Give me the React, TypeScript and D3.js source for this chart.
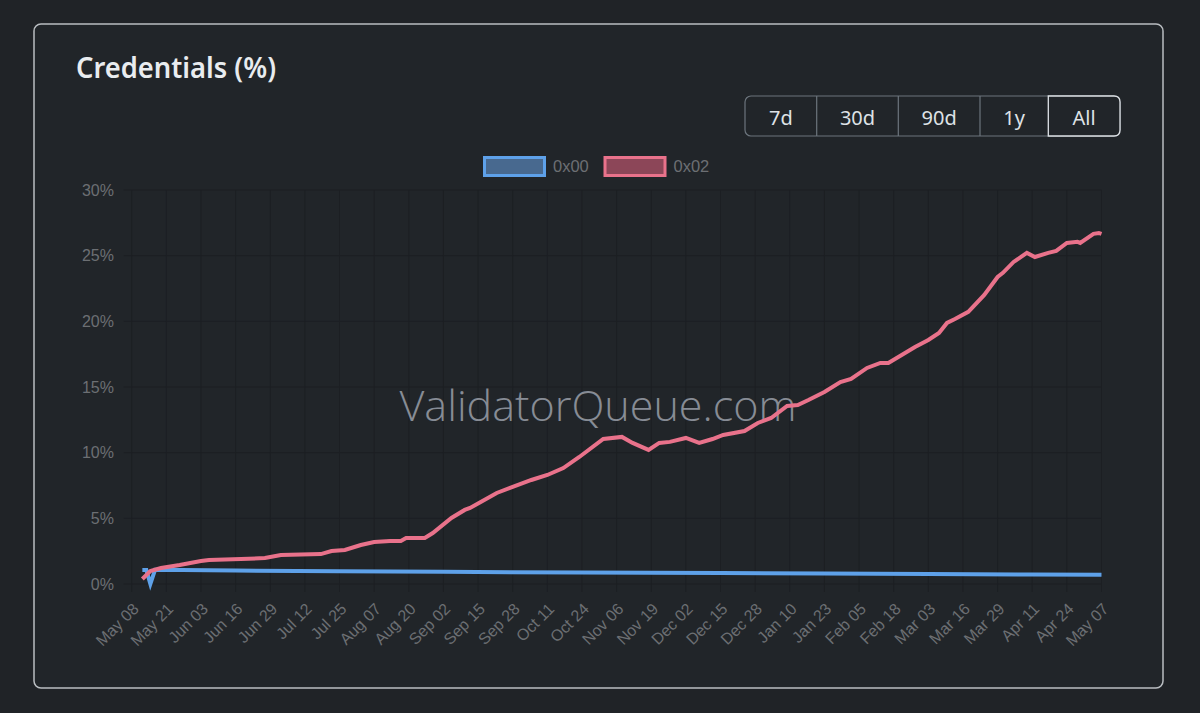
import * as d3 from 'd3';

// Series "0x02" (pink) — date, percent of validators
const pinkDates = [
  '2025-05-12', '2025-05-15', '2025-05-19', '2025-05-26', '2025-06-03', '2025-06-06',
  '2025-06-18', '2025-06-27', '2025-07-03', '2025-07-18', '2025-07-22', '2025-07-27',
  '2025-08-02', '2025-08-07', '2025-08-13', '2025-08-17', '2025-08-19', '2025-08-26',
  '2025-08-29', '2025-09-05', '2025-09-10', '2025-09-12', '2025-09-16', '2025-09-22',
  '2025-09-28', '2025-10-05', '2025-10-11', '2025-10-17', '2025-10-23', '2025-11-01',
  '2025-11-08', '2025-11-12', '2025-11-18', '2025-11-22', '2025-11-26', '2025-12-02',
  '2025-12-07', '2025-12-12', '2025-12-16', '2025-12-24', '2025-12-29', '2026-01-03',
  '2026-01-09', '2026-01-13', '2026-01-17', '2026-01-23', '2026-01-29', '2026-02-02',
  '2026-02-08', '2026-02-13', '2026-02-16', '2026-02-21', '2026-02-26', '2026-03-03',
  '2026-03-07', '2026-03-10', '2026-03-13', '2026-03-18', '2026-03-24', '2026-03-29',
  '2026-03-31', '2026-04-04', '2026-04-09', '2026-04-12', '2026-04-17', '2026-04-20',
  '2026-04-24', '2026-04-28', '2026-04-29', '2026-05-04', '2026-05-06', '2026-05-07',
];
const pinkValues = [
  0.38, 0.99, 1.22, 1.45, 1.75, 1.83,
  1.9, 1.98, 2.21, 2.28, 2.51, 2.59,
  2.97, 3.2, 3.27, 3.27, 3.5, 3.5,
  3.88, 5.03, 5.64, 5.79, 6.25, 6.93,
  7.39, 7.92, 8.3, 8.83, 9.67, 11.04,
  11.2, 10.74, 10.21, 10.74, 10.82, 11.12,
  10.74, 11.04, 11.35, 11.65, 12.26, 12.64,
  13.56, 13.63, 14.01, 14.62, 15.38, 15.61,
  16.45, 16.83, 16.83, 17.44, 18.05, 18.58,
  19.12, 19.88, 20.18, 20.72, 22.01, 23.38,
  23.69, 24.52, 25.21, 24.9, 25.21, 25.36,
  25.97, 26.05, 25.97, 26.66, 26.73, 26.66,
];

// Series "0x00" (blue)
const blueDates = [
  '2025-05-12T00:00', '2025-05-13T12:00', '2025-05-15T00:00', '2025-05-16T18:00',
  '2025-06-16', '2025-07-25', '2025-09-02', '2025-10-24', '2025-12-15',
  '2026-01-23', '2026-03-03', '2026-04-11', '2026-05-07',
];
const blueValues = [
  1.07, 1.07, 0.0, 1.08,
  1.02, 0.98, 0.93, 0.87, 0.83,
  0.8, 0.76, 0.72, 0.7,
];

const yTicks = [0, 5, 10, 15, 20, 25, 30];
const xStart = '2025-05-08';
const xEnd = '2026-05-07';
const tickStepDays = 13;
const rangeButtons = ['7d', '30d', '90d', '1y', 'All'];
const legendItems = [
  { label: '0x00', stroke: '#5ea1e9', fill: '#48698f' },
  { label: '0x02', stroke: '#e9728b', fill: '#8c4658' },
];

const parse = (s: string) => new Date(s.length > 10 ? s : s + 'T00:00');

export default function App() {
  const W = 1200;
  const H = 713;
  const PLOT = { left: 131.7, right: 1101.5, top: 190, bottom: 584 };

  const x = d3
    .scaleTime()
    .domain([parse(xStart), parse(xEnd)])
    .range([PLOT.left, PLOT.right]);
  const y = d3.scaleLinear().domain([0, 30]).range([PLOT.bottom, PLOT.top]);

  const xTicks = d3.timeDay
    .range(parse(xStart), d3.timeDay.offset(parse(xEnd), 1), 1)
    .filter((_, i) => i % tickStepDays === 0);
  const fmt = d3.timeFormat('%b %d');

  const line = d3
    .line<[Date, number]>()
    .x(d => x(d[0]))
    .y(d => y(d[1]));

  const pinkPath = line(pinkDates.map((d, i) => [parse(d), pinkValues[i]]));
  const bluePath = line(blueDates.map((d, i) => [parse(d), blueValues[i]]));

  // Button edges for the range selector group
  const btnEdges = [745, 816.7, 898.3, 980, 1048.3, 1120];
  const BTN_TOP = 96;
  const BTN_H = 40;

  const axisFont = '"Liberation Sans", Arial, sans-serif';
  const uiFont = '"Noto Sans", "Open Sans", sans-serif';
  const gridColor = '#1c1f23';

  return (
    <div
      style={{
        position: 'fixed',
        left: 0,
        top: 0,
        width: W,
        height: H,
        background: '#212529',
      }}
    >
      <svg width={W} height={H} viewBox={`0 0 ${W} ${H}`}>
        <rect x={0} y={0} width={W} height={H} fill="#202327" />
        {/* Card */}
        <rect
          x={34}
          y={24}
          width={1129}
          height={664}
          rx={7}
          fill="#212529"
          stroke="#b9bdc1"
          strokeWidth={1.5}
        />

        {/* Title */}
        <text
          x={76}
          y={78}
          fontFamily={uiFont}
          fontWeight={600}
          fontSize={29}
          fill="#e9ecef"
          textLength={200}
          lengthAdjust="spacingAndGlyphs"
        >
          Credentials (%)
        </text>

        {/* Range buttons */}
        <rect
          x={btnEdges[0]}
          y={BTN_TOP}
          width={btnEdges[5] - btnEdges[0]}
          height={BTN_H}
          rx={6}
          fill="none"
          stroke="#6c757d"
          strokeWidth={1.2}
        />
        {btnEdges.slice(1, 4).map((e, i) => (
          <line
            key={`div-${i}`}
            x1={e}
            x2={e}
            y1={BTN_TOP}
            y2={BTN_TOP + BTN_H}
            stroke="#6c757d"
            strokeWidth={1.2}
          />
        ))}
        <path
          d={`M ${btnEdges[4]} ${BTN_TOP} H ${btnEdges[5] - 6} Q ${btnEdges[5]} ${BTN_TOP} ${btnEdges[5]} ${BTN_TOP + 6} V ${BTN_TOP + BTN_H - 6} Q ${btnEdges[5]} ${BTN_TOP + BTN_H} ${btnEdges[5] - 6} ${BTN_TOP + BTN_H} H ${btnEdges[4]} Z`}
          fill="#212529"
          stroke="#dee2e6"
          strokeWidth={1.3}
        />
        {rangeButtons.map((b, i) => (
          <text
            key={b}
            x={(btnEdges[i] + btnEdges[i + 1]) / 2}
            y={BTN_TOP + 29}
            textAnchor="middle"
            fontFamily={uiFont}
            fontSize={20}
            fill="#dee2e6"
          >
            {b}
          </text>
        ))}

        {/* Legend */}
        {legendItems.map((l, i) => {
          const lx = 483 + i * 120.5;
          return (
            <g key={l.label}>
              <rect
                x={lx + 1.5}
                y={157.5}
                width={60}
                height={18}
                fill={l.fill}
                stroke={l.stroke}
                strokeWidth={3}
              />
              <text
                x={lx + 70}
                y={166}
                dominantBaseline="central"
                fontFamily={axisFont}
                fontSize={16.5}
                fill="#6c6f73"
              >
                {l.label}
              </text>
            </g>
          );
        })}

        {/* Grid */}
        {yTicks.map(t => (
          <line
            key={`hg-${t}`}
            x1={PLOT.left - 8}
            x2={PLOT.right}
            y1={y(t)}
            y2={y(t)}
            stroke={gridColor}
            strokeWidth={1}
          />
        ))}
        {xTicks.map((t, i) => (
          <line
            key={`vg-${i}`}
            x1={x(t)}
            x2={x(t)}
            y1={PLOT.top}
            y2={PLOT.bottom + 8}
            stroke={gridColor}
            strokeWidth={1}
          />
        ))}

        {/* Y labels */}
        {yTicks.map(t => (
          <text
            key={`yl-${t}`}
            x={114}
            y={y(t)}
            textAnchor="end"
            dominantBaseline="central"
            fontFamily={axisFont}
            fontSize={16}
            fill="#6c6f73"
          >
            {t}%
          </text>
        ))}

        {/* X labels */}
        {xTicks.map((t, i) => (
          <text
            key={`xl-${i}`}
            transform={`translate(${x(t) + 8}, ${PLOT.bottom + 26}) rotate(-45)`}
            textAnchor="end"
            fontFamily={axisFont}
            fontSize={16}
            fill="#6c6f73"
          >
            {fmt(t)}
          </text>
        ))}

        {/* Watermark */}
        <text
          x={598}
          y={421}
          textAnchor="middle"
          fontFamily='"Open Sans", sans-serif'
          fontWeight={300}
          fontSize={42}
          fill="#878c95"
          textLength={397}
          lengthAdjust="spacingAndGlyphs"
        >
          ValidatorQueue.com
        </text>

        {/* Lines */}
        <path
          d={bluePath ?? ''}
          fill="none"
          stroke="#5ea1e9"
          strokeWidth={4}
          strokeLinejoin="miter"
        />
        <path
          d={pinkPath ?? ''}
          fill="none"
          stroke="#e9728b"
          strokeWidth={4}
          strokeLinejoin="miter"
        />
      </svg>
    </div>
  );
}
